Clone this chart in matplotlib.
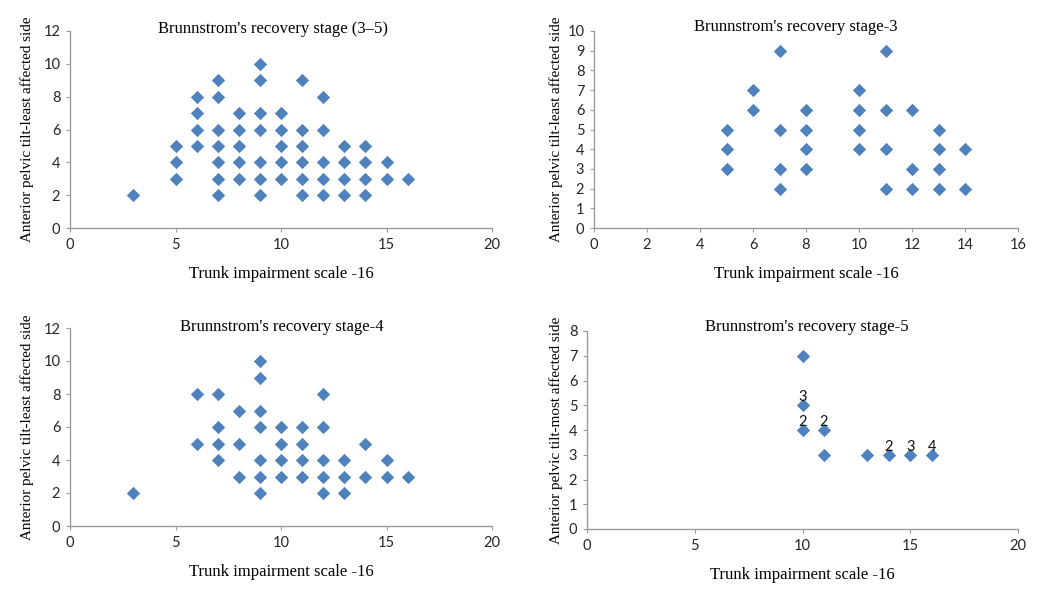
import matplotlib
matplotlib.use("Agg")
import matplotlib.pyplot as plt

# Brunnstrom's recovery stage (3-5)
all_x = [3, 5, 5, 5, 6, 6, 6, 6, 7, 7, 7, 7, 7, 7, 7,
         8, 8, 8, 8, 8, 9, 9, 9, 9, 9, 9, 9, 10, 10, 10, 10, 10,
         11, 11, 11, 11, 11, 11, 12, 12, 12, 12, 12,
         13, 13, 13, 13, 14, 14, 14, 14, 15, 15, 16]
all_y = [2, 3, 4, 5, 5, 6, 7, 8, 2, 3, 4, 5, 6, 8, 9,
         3, 4, 5, 6, 7, 2, 3, 4, 6, 7, 9, 10, 3, 4, 5, 6, 7,
         2, 3, 4, 5, 6, 9, 2, 3, 4, 6, 8,
         2, 3, 4, 5, 2, 3, 4, 5, 3, 4, 3]

# stage 3
s3_x = [5, 5, 5, 6, 6, 7, 7, 7, 7, 8, 8, 8, 8,
        10, 10, 10, 10, 11, 11, 11, 11, 12, 12, 12, 13, 13, 13, 13, 14, 14]
s3_y = [3, 4, 5, 6, 7, 2, 3, 5, 9, 3, 4, 5, 6,
        4, 5, 6, 7, 2, 4, 6, 9, 2, 3, 6, 2, 3, 4, 5, 2, 4]

# stage 4
s4_x = [3, 6, 6, 7, 7, 7, 7, 8, 8, 8, 9, 9, 9, 9, 9, 9, 9,
        10, 10, 10, 10, 11, 11, 11, 11, 12, 12, 12, 12, 12,
        13, 13, 13, 14, 14, 15, 15, 16]
s4_y = [2, 5, 8, 4, 5, 6, 8, 3, 5, 7, 2, 3, 4, 6, 7, 9, 10,
        3, 4, 5, 6, 3, 4, 5, 6, 2, 3, 4, 6, 8,
        2, 3, 4, 3, 5, 3, 4, 3]

# stage 5 (with counts of overlapping points)
s5_x = [10, 10, 10, 11, 11, 13, 14, 15, 16]
s5_y = [7, 5, 4, 4, 3, 3, 3, 3, 3]
s5_n = ["", "3", "2", "2", "", "", "2", "3", "4"]

W, H = 1054, 612
BLUE = "#4F81BD"
GREY = "#9a9a9a"
SERIF = "Liberation Serif"
SANS = "Lato"


def make_ax(fig, left, top, right, bottom):
    return fig.add_axes([left / W, 1 - bottom / H, (right - left) / W, (bottom - top) / H])


def style(ax, xmax, xstep, ymax, ystep, title, title_px, ylabel, ylab_x):
    ax.set_xlim(0, xmax)
    ax.set_ylim(0, ymax)
    ax.set_xticks(range(0, xmax + 1, xstep))
    ax.set_yticks(range(0, ymax + 1, ystep))
    for s in ["top", "right"]:
        ax.spines[s].set_visible(False)
    for s in ["left", "bottom"]:
        ax.spines[s].set_color(GREY)
        ax.spines[s].set_linewidth(1.0)
    ax.tick_params(direction="out", length=3, color=GREY, labelsize=10.5,
                   labelcolor="#262626", pad=4)
    for lab in ax.get_xticklabels() + ax.get_yticklabels():
        lab.set_fontfamily(SANS)
    # title sits just above the top of the plot area
    fig.text(title_px[0] / W, 1 - title_px[1] / H, title, ha="center", va="center",
             fontfamily=SERIF, fontsize=12)
    ax.set_xlabel("Trunk impairment scale -16", fontfamily=SERIF, fontsize=12, labelpad=10)
    ax.set_ylabel(ylabel, fontfamily=SERIF, fontsize=10.9)
    ax.yaxis.set_label_coords(ylab_x, 0.5)
    ax.set_facecolor("none")


fig = plt.figure(figsize=(W / 100, H / 100), dpi=100)

mk = dict(marker="D", s=46, color=BLUE, linewidths=0, zorder=3, clip_on=False)

ax1 = make_ax(fig, 70, 31, 492, 228)
ax1.scatter(all_x, all_y, **mk)
style(ax1, 20, 5, 12, 2, "Brunnstrom's recovery stage (3\u20135)", (273, 29),
      "Anterior pelvic tilt-least affected side", -0.085)

ax2 = make_ax(fig, 594, 31, 1018, 228)
ax2.scatter(s3_x, s3_y, **mk)
style(ax2, 16, 2, 10, 1, "Brunnstrom's recovery stage-3", (796, 27),
      "Anterior pelvic tilt-least affected side", -0.073)

ax3 = make_ax(fig, 70, 328, 492, 526)
ax3.scatter(s4_x, s4_y, **mk)
style(ax3, 20, 5, 12, 2, "Brunnstrom's recovery stage-4", (282, 327),
      "Anterior pelvic tilt-least affected side", -0.085)

ax4 = make_ax(fig, 587, 331, 1018, 529)
ax4.scatter(s5_x, s5_y, **mk)
for x, y, n in zip(s5_x, s5_y, s5_n):
    if n:
        ax4.text(x, y + 0.33, n, ha="center", va="center", fontsize=10.5,
                 fontfamily=SANS, color="#111111", zorder=4)
style(ax4, 20, 5, 8, 1, "Brunnstrom's recovery stage-5", (807, 327),
      "Anterior pelvic tilt-most affected side", -0.056)

fig.savefig("out.png", dpi=100)
